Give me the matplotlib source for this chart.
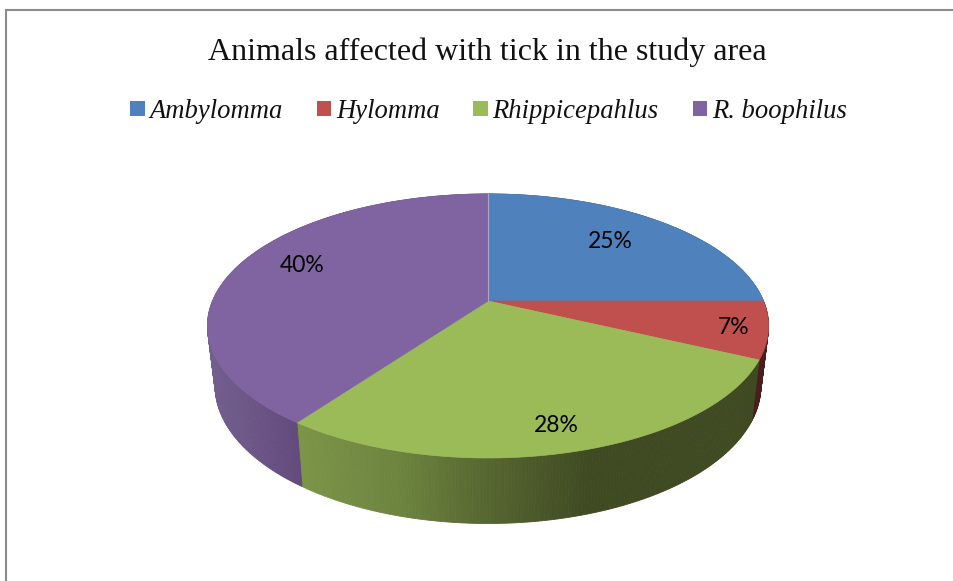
#Pie 3D de garrapatas por especie
import matplotlib
matplotlib.use('Agg')
import matplotlib.pyplot as plt
from matplotlib.patches import Patch
from matplotlib.font_manager import FontProperties
import numpy as np

titulo = 'Animals affected with tick in the study area'
especies = ['Ambylomma', 'Hylomma', 'Rhippicepahlus', 'R. boophilus']
valores = [25, 7, 28, 40]
etiquetas = ['25%', '7%', '28%', '40%']

colores = ['#4F81BD', '#C0504D', '#9BBB59', '#8064A2']
# color de la pared lateral segun la x de pantalla
pared_x = [[200, 800], [200, 800], [301, 400, 490, 590, 800], [205, 301]]
pared_c = [['#3A5A80', '#3A5A80'],
           ['#4A1E1E', '#4A1E1E'],
           ['#7B9447', '#6C843F', '#566530', '#3F4A22', '#3F4A22'],
           ['#73608F', '#62497C']]

centro_x = 488
k = 0.189


def proyectar(t, cy, a, b):
    # circulo en perspectiva, t en radianes en sentido horario desde arriba
    den = 1 + k*np.cos(t)
    return centro_x + a*np.sin(t)/den, cy - b*np.cos(t)/den


def arriba(t): return proyectar(t, 301, 275.5, 127.3)
def abajo(t): return proyectar(t, 359.5, 268, 133)


def hex_rgb(c): return np.array(matplotlib.colors.to_rgb(c))


fig = plt.figure(figsize=(9.54, 5.81), dpi=100)
ax = fig.add_axes([0, 0, 1, 1])
ax.set_xlim(0, 954)
ax.set_ylim(581, 0)
ax.axis('off')

# marco, solo se ve arriba y a la izquierda
ax.plot([6.5, 6.5, 954], [581, 9.5, 9.5], color='#8C8C8C', lw=1.5, solid_joinstyle='miter')

fracciones = np.cumsum([0] + valores)/sum(valores)*2*np.pi

# paredes
for i in range(len(valores)):
    ts = np.linspace(fracciones[i], fracciones[i+1], int(valores[i]*6)+2)
    for t0, t1 in zip(ts[:-1], ts[1:]):
        x0, y0 = arriba(t0)
        x1, y1 = arriba(t1)
        x2, y2 = abajo(t1)
        x3, y3 = abajo(t0)
        xm = (x0+x1)/2
        rgb = [np.interp(xm, pared_x[i], [hex_rgb(c)[j] for c in pared_c[i]]) for j in range(3)]
        ax.fill([x0, x1, x2, x3], [y0, y1, y2, y3], color=rgb, lw=0.6, zorder=2)

# cara superior
for i in range(len(valores)):
    ts = np.linspace(fracciones[i], fracciones[i+1], 200)
    xs, ys = arriba(ts)
    ax.fill(np.r_[centro_x, xs], np.r_[301, ys], color=colores[i], lw=0.5, zorder=3)

x_tope, y_tope = arriba(0.0)
ax.plot([centro_x, x_tope], [301, y_tope], color='#A9A6CC', lw=0.8, zorder=4)

# etiquetas, desplazadas a ojo desde el centro de cada porcion
pos_etiquetas = [(610.5, 241), (734, 327), (556.5, 426), (302, 265)]
for txt, (x, y) in zip(etiquetas, pos_etiquetas):
    ax.text(x, y, txt, ha='center', va='center', fontsize=16.5, family='Lato', color='black', zorder=5)

ax.text(487.5, 52, titulo, ha='center', va='center', fontsize=23, family='Liberation Serif', color='#111111')

manijas = [Patch(facecolor=c, edgecolor='none') for c in colores]
fuente = FontProperties(family='Liberation Serif', style='italic', size=19.15)
ley = ax.legend(manijas, especies, loc='center', bbox_to_anchor=(488.5, 111.5), bbox_transform=ax.transData,
                ncol=4, frameon=False, prop=fuente, handlelength=0.53, handleheight=0.53,
                handletextpad=0.19, columnspacing=1.27, borderpad=0, borderaxespad=0)
for t in ley.get_texts():
    t.set_color('#111111')

plt.savefig('out.png', dpi=100)
